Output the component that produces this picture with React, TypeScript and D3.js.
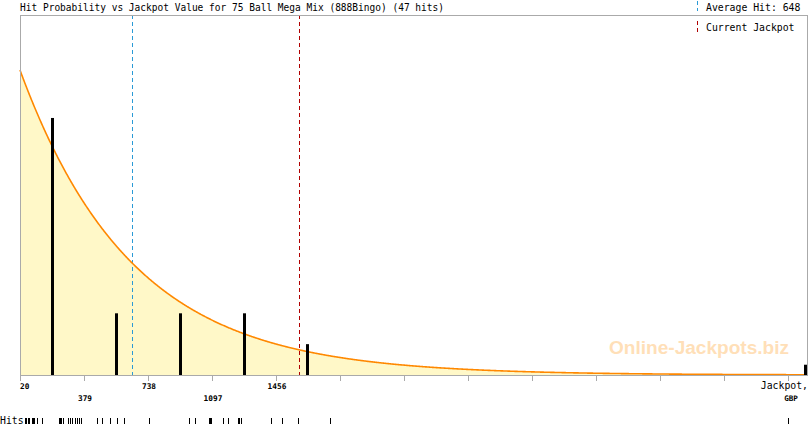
import React, { useEffect } from 'react';
import * as d3 from 'd3';

const TITLE = 'Hit Probability vs Jackpot Value for 75 Ball Mega Mix (888Bingo) (47 hits)';
const HITS: number[] = [
  48, 50, 55, 48, 65, 65, 72, 87, 93, 100, 115, 115, 143, 240, 244, 250, 261, 289, 300, 312, 328, 330, 340, 350, 362,
  452, 480, 525, 525, 564, 603,
  744, 968, 1002, 1080, 1085, 1091,
  1159, 1187, 1243, 1250, 1260, 1428,
  1490, 1579, 1759,
  4330,
];
const X_MIN = 20;
const BIN_WIDTH = 359;
const TICK_COUNT = 13;
const TICK_LABELS = ['20', '379', '738', '1097', '1456'];
const AVERAGE_HIT = 648;
const CURRENT_JACKPOT = 1585;
const CURVE_PEAK = 0.631;
const Y_MAX = 0.745;

const W = 810;
const H = 425;
const L = 20;
const R = 807;
const T = 15;
const B = 375;
const MONO = '"DejaVu Sans Mono", "Liberation Mono", monospace';

export default function App() {
  useEffect(() => {
    document.body.style.margin = '0';
  }, []);

  const xMax = X_MIN + ((R - L) * BIN_WIDTH) / 64;
  const x = d3.scaleLinear().domain([X_MIN, xMax]).range([L, R]);
  const y = d3.scaleLinear().domain([0, Y_MAX]).range([B, T]);
  const tickValues = d3.range(TICK_COUNT).map((i) => X_MIN + BIN_WIDTH * i);
  const bins = d3
    .bin()
    .domain([X_MIN, X_MIN + BIN_WIDTH * TICK_COUNT])
    .thresholds(tickValues)(HITS)
    .filter((b) => b.length > 0);

  const scale = AVERAGE_HIT - X_MIN;
  const pts = d3.range(X_MIN, xMax + 1, 3).concat([xMax]);
  const f = (v: number) => CURVE_PEAK * Math.exp(-(v - X_MIN) / scale);
  const area = d3
    .area<number>()
    .x((d) => x(d))
    .y0(B)
    .y1((d) => y(f(d)))(pts) as string;
  const line = d3
    .line<number>()
    .x((d) => x(d))
    .y((d) => y(f(d)))(pts) as string;

  const avgX = Math.round(x(AVERAGE_HIT)) + 0.5;
  const curX = Math.round(x(CURRENT_JACKPOT)) + 0.5;
  const uniqueHits = Array.from(new Set(HITS));

  return (
    <svg width={W} height={H} style={{ position: 'absolute', left: 0, top: 0, display: 'block' }}>
      <rect x={0} y={0} width={W} height={H} fill="#fff" />
      <text x={609} y={354} fontFamily='"Liberation Sans", Arial, sans-serif' fontWeight="bold" fontSize={18} fill="#ffdfb8" textLength={180} lengthAdjust="spacingAndGlyphs">
        Online-Jackpots.biz
      </text>
      <path d={area} fill="#fff8c8" />
      <line x1={avgX} x2={avgX} y1={T} y2={B} stroke="#2a9ad6" strokeWidth={1} strokeDasharray="4,3" />
      <line x1={curX} x2={curX} y1={T} y2={B} stroke="#b00000" strokeWidth={1} strokeDasharray="4,3" />
      <path d={line} fill="none" stroke="#ff8800" strokeWidth={1.6} />
      {bins.map((b, i) => {
        const c = Math.min(x(((b.x0 as number) + (b.x1 as number)) / 2), R - 1.5);
        const h = y(b.length / HITS.length);
        return <rect key={i} x={Math.round(c - 1.5)} y={h} width={3} height={B - h} fill="#000" />;
      })}
      {/* frame */}
      <line x1={L + 0.5} x2={L + 0.5} y1={T} y2={B} stroke="#aaa" />
      <line x1={L} x2={R + 1} y1={T + 0.5} y2={T + 0.5} stroke="#aaa" />
      <line x1={R + 0.5} x2={R + 0.5} y1={T} y2={B} stroke="#aaa" />
      <line x1={L} x2={R + 1} y1={B + 0.5} y2={B + 0.5} stroke="#aaa" />
      {tickValues.map((v, i) => (
        <line key={i} x1={Math.round(x(v)) + 0.5} x2={Math.round(x(v)) + 0.5} y1={B} y2={B + 6} stroke="#aaa" />
      ))}
      {TICK_LABELS.map((t, i) => (
        <text
          key={t}
          x={i === 0 ? L : x(tickValues[i]) + 1}
          y={i % 2 === 0 ? 389 : 401}
          textAnchor={i === 0 ? 'start' : 'middle'}
          fontFamily={MONO}
          fontWeight="bold"
          fontSize={7.8}
          fill="#000"
        >
          {t}
        </text>
      ))}
      <text x={808} y={389} textAnchor="end" fontFamily={MONO} fontSize={9.8} fill="#000">
        Jackpot,
      </text>
      <text x={791} y={401} textAnchor="middle" fontFamily={MONO} fontWeight="bold" fontSize={7.6} fill="#000">
        GBP
      </text>
      {/* title & legend */}
      <text x={20} y={11} fontFamily={MONO} fontSize={9.6} fill="#000" textLength={424} lengthAdjust="spacingAndGlyphs">
        {TITLE}
      </text>
      <line x1={697.5} x2={697.5} y1={1} y2={11} stroke="#2a9ad6" strokeDasharray="4,3" />
      <text x={706} y={11} fontFamily={MONO} fontSize={9.8} fill="#000">
        {`Average Hit: ${Math.round(d3.mean(HITS) as number)}`}
      </text>
      <line x1={697.5} x2={697.5} y1={21} y2={33} stroke="#b00000" strokeDasharray="4,3" />
      <text x={706} y={31} fontFamily={MONO} fontSize={9.8} fill="#000">
        Current Jackpot
      </text>
      {/* hits strip */}
      <text x={0} y={424} fontFamily={MONO} fontSize={9.8} fill="#000">
        Hits
      </text>
      {uniqueHits.map((v, i) => (
        <line key={i} x1={Math.round(x(v)) + 0.5} x2={Math.round(x(v)) + 0.5} y1={418} y2={424} stroke="#000" />
      ))}
    </svg>
  );
}
